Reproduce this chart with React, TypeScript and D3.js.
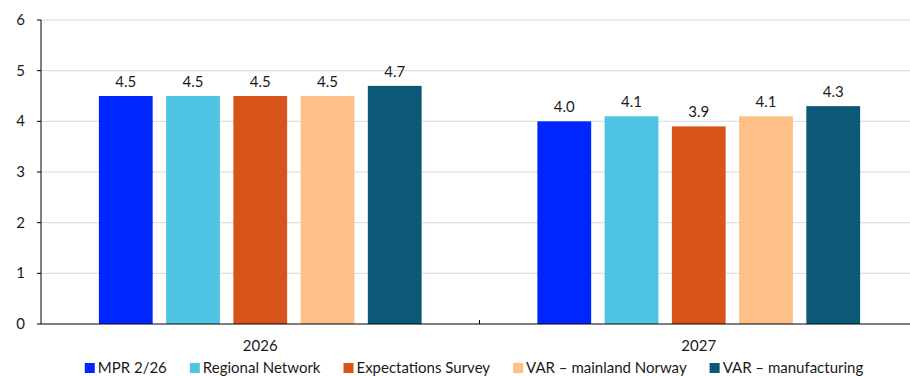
import React, { useEffect, useRef } from "react";
import * as d3 from "d3";

const years = ["2026", "2027"];
const seriesNames = [
  "MPR 2/26",
  "Regional Network",
  "Expectations Survey",
  "VAR – mainland Norway",
  "VAR – manufacturing",
];
const seriesColors = ["#0026ff", "#4fc3e3", "#d9541b", "#fdc087", "#0b5877"];
const values2026 = [4.5, 4.5, 4.5, 4.5, 4.7];
const values2027 = [4.0, 4.1, 3.9, 4.1, 4.3];
const yTicks = [0, 1, 2, 3, 4, 5, 6];

const W = 910;
const H = 376;
const FONT = "Lato, 'Open Sans', sans-serif";
const FS = 15;
const TEXT = "#1a1a1a";

export default function App() {
  const ref = useRef<SVGSVGElement | null>(null);

  useEffect(() => {
    const svg = d3.select(ref.current);
    svg.selectAll("*").remove();

    const left = 41;
    const right = 918;
    const top = 20;
    const bottom = 324;

    const y = d3.scaleLinear().domain([0, 6]).range([bottom, top]);
    const x0 = d3.scaleBand().domain(years).range([left, right]).paddingInner(0).paddingOuter(0);
    const groupShare = 0.736;
    const x1 = d3
      .scaleBand()
      .domain(seriesNames)
      .range([0, x0.bandwidth() * groupShare])
      .paddingInner(0.2);
    const groupOffset = (x0.bandwidth() * (1 - groupShare)) / 2;

    const valuesByYear: Record<string, number[]> = { "2026": values2026, "2027": values2027 };

    // gridlines
    svg
      .append("g")
      .selectAll("line")
      .data(yTicks.filter((t) => t > 0))
      .join("line")
      .attr("x1", left)
      .attr("x2", W)
      .attr("y1", (d) => y(d))
      .attr("y2", (d) => y(d))
      .attr("stroke", "#d9d9d9")
      .attr("stroke-width", 1);

    // bars
    const groups = svg
      .append("g")
      .selectAll("g")
      .data(years)
      .join("g")
      .attr("transform", (d) => `translate(${(x0(d) ?? 0) + groupOffset},0)`);

    groups
      .selectAll("rect")
      .data((yr) => valuesByYear[yr].map((v, i) => ({ v, i })))
      .join("rect")
      .attr("x", (d) => x1(seriesNames[d.i]) ?? 0)
      .attr("width", x1.bandwidth())
      .attr("y", (d) => y(d.v))
      .attr("height", (d) => bottom - y(d.v))
      .attr("fill", (d) => seriesColors[d.i]);

    groups
      .selectAll("text")
      .data((yr) => valuesByYear[yr].map((v, i) => ({ v, i })))
      .join("text")
      .attr("x", (d) => (x1(seriesNames[d.i]) ?? 0) + x1.bandwidth() / 2)
      .attr("y", (d) => y(d.v) - 9)
      .attr("text-anchor", "middle")
      .attr("font-family", FONT)
      .attr("font-size", FS)
      .attr("fill", TEXT)
      .text((d) => d3.format(".1f")(d.v));

    // y axis
    const yAxis = svg.append("g");
    yAxis
      .append("line")
      .attr("x1", left)
      .attr("x2", left)
      .attr("y1", top)
      .attr("y2", bottom)
      .attr("stroke", "#000");
    yAxis
      .selectAll("line.tick")
      .data(yTicks)
      .join("line")
      .attr("class", "tick")
      .attr("x1", left - 4)
      .attr("x2", left)
      .attr("y1", (d) => y(d))
      .attr("y2", (d) => y(d))
      .attr("stroke", "#000");
    yAxis
      .selectAll("text")
      .data(yTicks)
      .join("text")
      .attr("x", 25)
      .attr("y", (d) => y(d) + 5)
      .attr("text-anchor", "end")
      .attr("font-family", FONT)
      .attr("font-size", FS)
      .attr("fill", TEXT)
      .text((d) => String(d));

    // x axis
    const xAxis = svg.append("g");
    xAxis
      .append("line")
      .attr("x1", left)
      .attr("x2", W)
      .attr("y1", bottom)
      .attr("y2", bottom)
      .attr("stroke", "#000");
    xAxis
      .selectAll("line.tick")
      .data(years.slice(1))
      .join("line")
      .attr("class", "tick")
      .attr("x1", (d) => x0(d) ?? 0)
      .attr("x2", (d) => x0(d) ?? 0)
      .attr("y1", bottom - 4)
      .attr("y2", bottom)
      .attr("stroke", "#000");
    xAxis
      .selectAll("text")
      .data(years)
      .join("text")
      .attr("x", (d) => (x0(d) ?? 0) + x0.bandwidth() / 2)
      .attr("y", 351)
      .attr("text-anchor", "middle")
      .attr("font-family", FONT)
      .attr("font-size", FS)
      .attr("fill", TEXT)
      .text((d) => d);

    // legend
    const legend = svg.append("g");
    const items = legend.selectAll("g").data(seriesNames).join("g");
    items
      .append("rect")
      .attr("x", 0)
      .attr("y", 363)
      .attr("width", 10)
      .attr("height", 10)
      .attr("fill", (_, i) => seriesColors[i]);
    items
      .append("text")
      .attr("x", 13)
      .attr("y", 373)
      .attr("font-family", FONT)
      .attr("font-size", FS)
      .attr("fill", TEXT)
      .text((d) => d);

    const gap = 23;
    const widths: number[] = [];
    items.each(function () {
      const t = d3.select(this).select("text").node() as SVGTextElement;
      widths.push(13 + t.getComputedTextLength());
    });
    const total = d3.sum(widths) + gap * (widths.length - 1);
    let cx = 474 - total / 2;
    items.attr("transform", (_, i) => {
      const tx = cx;
      cx += widths[i] + gap;
      return `translate(${tx},0)`;
    });
  }, []);

  return (
    <svg
      ref={ref}
      width={W}
      height={H}
      style={{ position: "absolute", left: 0, top: 0, background: "#fff" }}
    />
  );
}
